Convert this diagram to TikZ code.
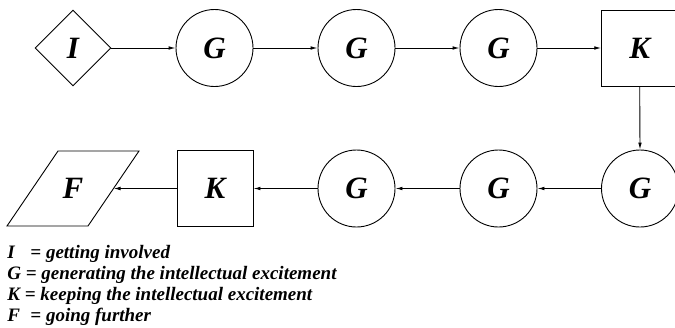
\documentclass[tikz,border=0pt]{standalone}
\usepackage{fontspec}
\setmainfont{Liberation Serif}
\usetikzlibrary{shapes.geometric,arrows.meta}
\tikzset{
  every node/.style={font=\bfseries\itshape},
  letter/.style={font=\fontsize{31}{31}\selectfont\bfseries\itshape},
  gcirc/.style={letter,draw,circle,minimum size=77pt,inner sep=0pt},
  kbox/.style={letter,draw,rectangle,minimum size=76pt,inner sep=0pt},
  ibox/.style={letter,draw,diamond,minimum width=76pt,minimum height=76pt,inner sep=0pt},
  flow/.style={-{Latex[length=7pt,width=3.6pt]},line width=0.9pt},
  legend/.style={anchor=base west,inner sep=0pt,font=\fontsize{19}{22}\selectfont\bfseries\itshape},
}
\begin{document}
\begin{tikzpicture}[x=1pt,y=1pt,line width=0.9pt]
\useasboundingbox (0,0) rectangle (675,-327);
% upper row, left to right
\node[ibox] (i)  at (73,-48) {I};
\node[gcirc] (g1) at (214.5,-48) {G};
\node[gcirc] (g2) at (356.5,-48) {G};
\node[gcirc] (g3) at (498.5,-48) {G};
\node[kbox]  (k1) at (639.7,-48) {K};
% lower row, right to left
\node[gcirc] (g4) at (640,-188.5) {G};
\node[gcirc] (g5) at (498.5,-188.5) {G};
\node[gcirc] (g6) at (356.5,-188.5) {G};
\node[kbox]  (k2) at (215,-188.5) {K};
% slanted box for F
\draw (7,-226) -- (88,-226) -- (139,-151) -- (58,-151) -- cycle;
\node[letter] (f) at (73,-188.5) {F};
\coordinate (fr) at (113.5,-188.5);
% connectors
\draw[flow] (i.east) -- (g1.west);
\draw[flow] (g1) -- (g2);
\draw[flow] (g2) -- (g3);
\draw[flow] (g3) -- (k1.west);
\draw[flow] (k1.south) -- (g4.north);
\draw[flow] (g4) -- (g5);
\draw[flow] (g5) -- (g6);
\draw[flow] (g6) -- (k2.east);
\draw[flow] (k2.west) -- (fr);
% key
\node[legend] (l1) at (7,-258) {\makebox[23pt][l]{I}= getting involved};
\node[legend] (l2) at (7,-279) {G = generating the intellectual excitement};
\node[legend] (l3) at (7,-300) {K = keeping the intellectual excitement};
\node[legend] (l4) at (7,-321) {\makebox[23pt][l]{F}= going further};
\end{tikzpicture}
\end{document}
